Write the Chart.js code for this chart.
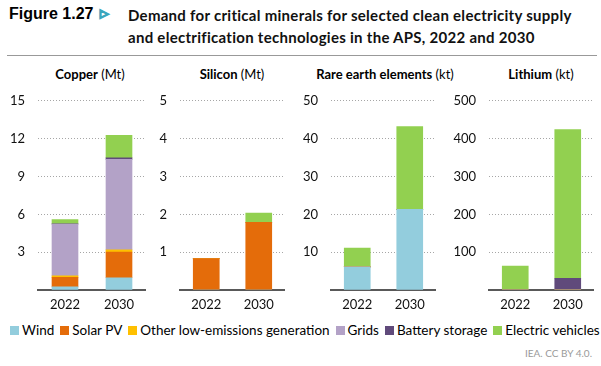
<!DOCTYPE html>
<html>
<head>
<meta charset="utf-8">
<script src="https://cdn.jsdelivr.net/npm/chart.js@4/dist/chart.umd.min.js"></script>
<style>
  html, body { margin: 0; padding: 0; background: #fff; }
  body { width: 601px; height: 366px; position: relative; overflow: hidden; font-family: Lato, sans-serif; }
  canvas { position: absolute; top: 80px; }
  .fig { position: absolute; left: 9px; top: 5px; font-family: "Liberation Sans", Arial, sans-serif; font-weight: bold; font-size: 16px; }
  .arrow { position: absolute; left: 100px; top: 6px; color: #3aa6bd; font-size: 11px; font-weight: bold; -webkit-text-stroke: 1.2px #3aa6bd; }
  .title { position: absolute; left: 128px; top: 4px; font-weight: bold; font-size: 15px; letter-spacing: 0.28px; line-height: 22px; color: #111; }
  .rule { position: absolute; left: 7px; right: 4px; top: 55px; border-top: 1px solid #999; }
  .ptitle { position: absolute; top: 66px; font-size: 13px; text-align: center; white-space: nowrap; transform: translateX(-50%); }
  .legend { position: absolute; left: 10px; top: 322px; font-size: 13.5px; white-space: nowrap; display: flex; gap: 6px; }
  .legend span.sw { display: inline-block; width: 9px; height: 9px; margin-right: 3px; }
  .credit { position: absolute; right: 9px; top: 347px; font-size: 10px; color: #9a9a9a; }
</style>
</head>
<body>
<div class="fig">Figure 1.27</div>
<div class="arrow">&#9655;</div>
<div class="title">Demand for critical minerals for selected clean electricity supply<br>and electrification technologies in the APS, 2022 and 2030</div>
<div class="rule"></div>

<div class="ptitle" style="left:90px"><b>Copper</b> (Mt)</div>
<div class="ptitle" style="left:232px"><b>Silicon</b> (Mt)</div>
<div class="ptitle" style="left:385px"><b>Rare earth elements</b> (kt)</div>
<div class="ptitle" style="left:541px"><b>Lithium</b> (kt)</div>

<canvas id="copper" width="146" height="236" style="left:0px"></canvas>
<canvas id="silicon" width="135" height="236" style="left:150px"></canvas>
<canvas id="rare" width="136" height="236" style="left:300px"></canvas>
<canvas id="lithium" width="144" height="236" style="left:450px"></canvas>

<div class="legend" id="legend"></div>
<div class="credit">IEA. CC BY 4.0.</div>

<script>
// ===== Data =====
const years = ['2022', '2030'];
const seriesNames = ['Wind', 'Solar PV', 'Other low-emissions generation', 'Grids', 'Battery storage', 'Electric vehicles'];
const seriesColors = ['#93cddd', '#e46c0a', '#ffc000', '#b3a2c7', '#604a7b', '#92d050'];

// values per series, in the order of seriesNames
const copper2022 = [0.25, 0.75, 0.12, 4.1, 0.03, 0.33];
const copper2030 = [0.97, 2.03, 0.18, 7.17, 0.13, 1.79];
const silicon2022 = [0, 0.83, 0, 0, 0, 0];
const silicon2030 = [0, 1.79, 0, 0, 0, 0.24];
const rare2022 = [6.1, 0, 0, 0, 0, 5.0];
const rare2030 = [21.3, 0, 0, 0, 0, 21.9];
const lithium2022 = [0, 0, 0, 0, 2, 61];
const lithium2030 = [0, 0, 0, 0, 31, 393];

// [min, max, step]
const copperTicks = [0, 15, 3];
const siliconTicks = [0, 5, 1];
const rareTicks = [0, 50, 10];
const lithiumTicks = [0, 500, 100];

const font = { family: 'Lato, sans-serif', size: 13 };

// ===== Charts =====
function makeChart(id, v2022, v2030, ticks, axisW) {
  const datasets = seriesNames.map((name, i) => ({
    label: name,
    data: [v2022[i], v2030[i]],
    backgroundColor: seriesColors[i],
    borderWidth: 0,
    barThickness: 26,
  }));
  return new Chart(document.getElementById(id), {
    type: 'bar',
    data: { labels: years, datasets },
    options: {
      responsive: false,
      animation: false,
      layout: { padding: { top: 13, right: 0, left: 0, bottom: 0 } },
      plugins: { legend: { display: false }, tooltip: { enabled: false } },
      scales: {
        x: {
          stacked: true,
          grid: { display: false, drawTicks: false },
          border: { display: true, color: '#595959', width: 2 },
          ticks: { color: '#111', font, padding: 7 },
          afterFit: (s) => { s.height = 26; },
        },
        y: {
          stacked: true,
          min: ticks[0],
          max: ticks[1],
          ticks: {
            stepSize: ticks[2],
            padding: 13,
            color: '#111',
            font,
            callback: (v) => (v === 0 ? '' : v),
          },
          grid: {
            drawTicks: false,
            color: (c) => (c.tick && c.tick.value === 0 ? 'rgba(0,0,0,0)' : '#a6a6a6'),
          },
          border: { display: false, dash: [1, 2] },
          afterFit: (s) => { s.width = axisW; },
        },
      },
    },
  });
}

makeChart('copper', copper2022, copper2030, copperTicks, 38);
makeChart('silicon', silicon2022, silicon2030, siliconTicks, 30);
makeChart('rare', rare2022, rare2030, rareTicks, 31);
makeChart('lithium', lithium2022, lithium2030, lithiumTicks, 39);

// ===== Legend =====
const legend = document.getElementById('legend');
seriesNames.forEach((name, i) => {
  const item = document.createElement('div');
  item.innerHTML = `<span class="sw" style="background:${seriesColors[i]}"></span>${name}`;
  legend.appendChild(item);
});
</script>
</body>
</html>
